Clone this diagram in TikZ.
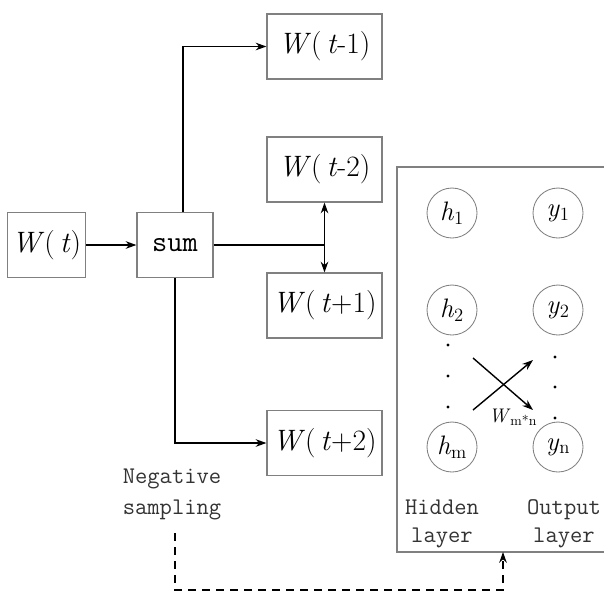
\documentclass[tikz,border=0pt]{standalone}
\usepackage{tikz}
\usetikzlibrary{arrows.meta,positioning,calc}
\definecolor{frame}{gray}{0.5}
\newcommand{\wt}[1]{\textit{W}(\,\textit{t}#1)}

\begin{document}
\begin{tikzpicture}[x=0.25mm, y=-0.25mm,
  wbox/.style={draw=frame, line width=0.8pt, minimum width=28.75mm,
    minimum height=16.25mm, font=\fontsize{21}{24}\selectfont},
  neuron/.style={circle, draw=frame, line width=0.6pt, minimum size=12.5mm,
    inner sep=0pt, font=\fontsize{19}{21}\selectfont},
  note/.style={align=center, text=black!80, font=\ttfamily\fontsize{17}{20}\selectfont},
  >={Stealth[length=2.7mm,width=1.9mm]}, line width=1pt]
  \useasboundingbox (0,0) rectangle (604,592);
  % input side
  \node[wbox, minimum width=19.25mm] (wt) at (46.5,245) {\wt{}};
  \node[wbox, minimum width=19mm, font=\ttfamily\fontsize{21}{24}\selectfont] (sum) at (175,245) {sum};
  \node[wbox] (w1) at (324.5,46.5) {\wt{-1}};
  \node[wbox] (w2) at (324.5,169.5) {\wt{-2}};
  \node[wbox] (w3) at (324.5,305.5) {\wt{+1}};
  \node[wbox] (w4) at (324.5,443) {\wt{+2}};
  \draw[->] (wt) -- (sum);
  \draw[->] ([xshift=2mm]sum.north) |- (w1.west);
  \draw[->] (sum.south) |- (w4.west);
  \coordinate (jn) at (324.5,245);
  \draw (sum.east) -- (jn);
  \foreach \b/\a in {w2/south,w3/north} \draw[->] (jn) -- (\b.\a);
  % network panel
  \draw[frame, line width=0.8pt] (604,167) -| (397,552) -- (604,552);
  \node[neuron] (h1) at (452,213) {\textit{h}\textsubscript{1}};
  \node[neuron] (y1) at (558,213) {\textit{y}\textsubscript{1}};
  \node[neuron] (h2) at (452,310) {\textit{h}\textsubscript{2}};
  \node[neuron] (y2) at (558,310) {\textit{y}\textsubscript{2}};
  \node[neuron] (hm) at (452,447) {\textit{h}\textsubscript{m}};
  \node[neuron] (yn) at (558,447) {\textit{y}\textsubscript{n}};
  \foreach \y in {345,376,407} \fill (448,\y) circle (1.6);
  \foreach \y in {357,387,418} \fill (555,\y) circle (1.6);
  \coordinate (ca) at (473,358);
  \coordinate (cb) at (533,410);
  \coordinate (cc) at (473,410);
  \coordinate (cd) at (533,360);
  \draw[->] (ca) -- (cb);
  \draw[->] (cc) -- (cd);
  \node[font=\fontsize{14}{16}\selectfont, inner sep=1pt] (wmn) at (513,417) {\textit{W}\textsubscript{m*n}};
  \node[note] (hid) at (442,524) {Hidden\\layer};
  \node[note] (out) at (564,524) {Output\\layer};
  % negative sampling
  \node[note, font=\ttfamily\fontsize{17}{22}\selectfont] (neg) at (172,494) {Negative\\sampling};
  \coordinate (ns) at (175,533);
  \coordinate (pb) at (503,552);
  \draw[->, dashed, dash pattern=on 2mm off 1.5mm, line width=0.8pt]
    (ns) -- (175,590) -| (pb);
\end{tikzpicture}
\end{document}
